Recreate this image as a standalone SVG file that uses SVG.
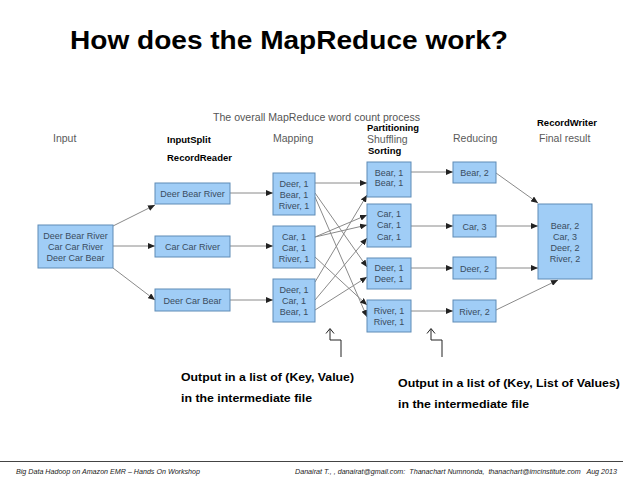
<svg xmlns="http://www.w3.org/2000/svg" width="638" height="479" viewBox="0 0 638 479">
<style>
.bg{fill:#ffffff}
.title{font-family:"Liberation Sans",Arial,sans-serif;font-weight:bold;font-size:26px;fill:#000}
.sub{font-family:"Liberation Sans",Arial,sans-serif;font-size:10.5px;fill:#555}
.hdr{font-family:"Liberation Sans",Arial,sans-serif;font-size:10.5px;fill:#5a5a5a}
.lbl{font-family:"Liberation Sans",Arial,sans-serif;font-weight:bold;font-size:9.5px;fill:#000}
.note{font-family:"Liberation Sans",Arial,sans-serif;font-weight:bold;font-size:11.5px;fill:#000}
.foot{font-family:"Liberation Sans",Arial,sans-serif;font-style:italic;font-size:7px;fill:#222}
.box{fill:#a0cdf6;stroke:#5f8bb6;stroke-width:1}
.bt{font-family:"Liberation Sans",Arial,sans-serif;font-size:9px;fill:#3a4c60;text-anchor:middle}
.con{stroke:#8a8a8a;stroke-width:1;fill:none;marker-end:url(#ah)}
.ann{stroke:#222;stroke-width:1;fill:none}
</style>
<defs>
<marker id="ah" markerUnits="userSpaceOnUse" markerWidth="8" markerHeight="6" refX="7" refY="3" orient="auto">
<path d="M0,0 L7,3 L0,6 Z" fill="#222"/>
</marker>
</defs>
<rect class="bg" x="0" y="0" width="638" height="479"/>
<text class="title" x="70" y="49" textLength="438" lengthAdjust="spacingAndGlyphs">How does the MapReduce work?</text>
<text class="sub" x="213" y="121" textLength="207" lengthAdjust="spacingAndGlyphs">The overall MapReduce word count process</text>
<g id="headers">
<text class="hdr" x="53" y="142">Input</text>
<text class="hdr" x="273" y="142">Mapping</text>
<text class="hdr" x="367" y="142.5">Shuffling</text>
<text class="hdr" x="453" y="142">Reducing</text>
<text class="hdr" x="539" y="142">Final result</text>
</g>
<g id="labels">
<text class="lbl" x="167" y="142.5">InputSplit</text>
<text class="lbl" x="167" y="160.5">RecordReader</text>
<text class="lbl" x="367" y="131" font-size="9px" textLength="52" lengthAdjust="spacingAndGlyphs">Partitioning</text>
<text class="lbl" x="368" y="153.5">Sorting</text>
<text class="lbl" x="537" y="125.5">RecordWriter</text>
</g>
<g id="connectors">
<line class="con" x1="113" y1="226" x2="155" y2="205"/>
<line class="con" x1="113" y1="246" x2="155" y2="246"/>
<line class="con" x1="113" y1="268" x2="155" y2="300"/>
<line class="con" x1="230" y1="193" x2="273" y2="193"/>
<line class="con" x1="230" y1="246" x2="273" y2="246"/>
<line class="con" x1="230" y1="300" x2="273" y2="300"/>
<line class="con" x1="315" y1="183" x2="367" y2="183"/>
<line class="con" x1="315" y1="193" x2="367" y2="267"/>
<line class="con" x1="315" y1="197" x2="367" y2="317"/>
<line class="con" x1="315" y1="237" x2="367" y2="215"/>
<line class="con" x1="315" y1="237" x2="367" y2="225"/>
<line class="con" x1="315" y1="257" x2="367" y2="305"/>
<line class="con" x1="315" y1="282" x2="367" y2="195"/>
<line class="con" x1="315" y1="300" x2="367" y2="238"/>
<line class="con" x1="315" y1="310" x2="367" y2="277"/>
<line class="con" x1="411" y1="172" x2="453" y2="172"/>
<line class="con" x1="411" y1="226" x2="453" y2="226"/>
<line class="con" x1="411" y1="268" x2="453" y2="268"/>
<line class="con" x1="411" y1="311" x2="453" y2="311"/>
<line class="con" x1="496" y1="173" x2="538" y2="203"/>
<line class="con" x1="496" y1="226" x2="538" y2="226"/>
<line class="con" x1="496" y1="268" x2="538" y2="268"/>
<line class="con" x1="496" y1="310" x2="558" y2="280"/>
<polyline class="ann" points="341,357 341,340 330,340 330,329"/>
<polyline class="ann" points="326,333.5 330,328.5 334,333.5"/>
<polyline class="ann" points="442,357 442,340 431,340 431,329"/>
<polyline class="ann" points="427,333.5 431,328.5 435,333.5"/>
</g>
<g id="input">
<rect class="box" x="38" y="225" width="75" height="43"/>
<text class="bt" x="75.5" y="238.5">Deer Bear River</text>
<text class="bt" x="75.5" y="249.5">Car Car River</text>
<text class="bt" x="75.5" y="260.5">Deer Car Bear</text>
</g>
<g id="split1"><rect class="box" x="155" y="183" width="75" height="21"/><text class="bt" x="192.5" y="197">Deer Bear River</text></g>
<g id="split2"><rect class="box" x="155" y="236" width="75" height="21"/><text class="bt" x="192.5" y="250">Car Car River</text></g>
<g id="split3"><rect class="box" x="155" y="289" width="75" height="22"/><text class="bt" x="192.5" y="303.5">Deer Car Bear</text></g>
<g id="map1"><rect class="box" x="273" y="173" width="42" height="42"/>
<text class="bt" x="294" y="186.5">Deer, 1</text><text class="bt" x="294" y="197.5">Bear, 1</text><text class="bt" x="294" y="208.5">River, 1</text></g>
<g id="map2"><rect class="box" x="273" y="226" width="42" height="42"/>
<text class="bt" x="294" y="239.5">Car, 1</text><text class="bt" x="294" y="250.5">Car, 1</text><text class="bt" x="294" y="261.5">River, 1</text></g>
<g id="map3"><rect class="box" x="273" y="279" width="42" height="43"/>
<text class="bt" x="294" y="292.5">Deer, 1</text><text class="bt" x="294" y="303.5">Car, 1</text><text class="bt" x="294" y="314.5">Bear, 1</text></g>
<g id="shuf1"><rect class="box" x="367" y="162" width="44" height="35"/>
<text class="bt" x="389" y="175.5">Bear, 1</text><text class="bt" x="389" y="186">Bear, 1</text></g>
<g id="shuf2"><rect class="box" x="367" y="204" width="44" height="43"/>
<text class="bt" x="389" y="216.5">Car, 1</text><text class="bt" x="389" y="228">Car, 1</text><text class="bt" x="389" y="239.5">Car, 1</text></g>
<g id="shuf3"><rect class="box" x="367" y="258" width="44" height="31"/>
<text class="bt" x="389" y="270.5">Deer, 1</text><text class="bt" x="389" y="281.5">Deer, 1</text></g>
<g id="shuf4"><rect class="box" x="367" y="300" width="44" height="32"/>
<text class="bt" x="389" y="313.5">River, 1</text><text class="bt" x="389" y="324.5">River, 1</text></g>
<g id="red1"><rect class="box" x="453" y="162" width="43" height="21"/><text class="bt" x="474.5" y="176">Bear, 2</text></g>
<g id="red2"><rect class="box" x="453" y="215" width="43" height="22"/><text class="bt" x="474.5" y="229.5">Car, 3</text></g>
<g id="red3"><rect class="box" x="453" y="257" width="43" height="22"/><text class="bt" x="474.5" y="271.5">Deer, 2</text></g>
<g id="red4"><rect class="box" x="453" y="300" width="43" height="22"/><text class="bt" x="474.5" y="314.5">River, 2</text></g>
<g id="final"><rect class="box" x="538" y="204" width="54" height="75"/>
<text class="bt" x="565" y="228.5">Bear, 2</text><text class="bt" x="565" y="239.5">Car, 3</text><text class="bt" x="565" y="250.5">Deer, 2</text><text class="bt" x="565" y="261.5">River, 2</text></g>
<g id="notes">
<text class="note" x="181" y="381" textLength="173" lengthAdjust="spacingAndGlyphs">Output in a list of (Key, Value)</text>
<text class="note" x="181" y="402" textLength="131" lengthAdjust="spacingAndGlyphs">in the intermediate file</text>
<text class="note" x="398" y="387" textLength="222" lengthAdjust="spacingAndGlyphs">Output in a list of (Key, List of Values)</text>
<text class="note" x="398" y="408" textLength="131" lengthAdjust="spacingAndGlyphs">in the intermediate file</text>
</g>
<line x1="0" y1="461.5" x2="623" y2="461.5" stroke="#444" stroke-width="1"/>
<text class="foot" x="16" y="474" textLength="184" lengthAdjust="spacingAndGlyphs">Big Data Hadoop on Amazon EMR – Hands On Workshop</text>
<text class="foot" x="295" y="474" textLength="322" lengthAdjust="spacingAndGlyphs" xml:space="preserve">Danairat T., , danairat@gmail.com:  Thanachart Numnonda,  thanachart@imcinstitute.com   Aug 2013</text>
</svg>
